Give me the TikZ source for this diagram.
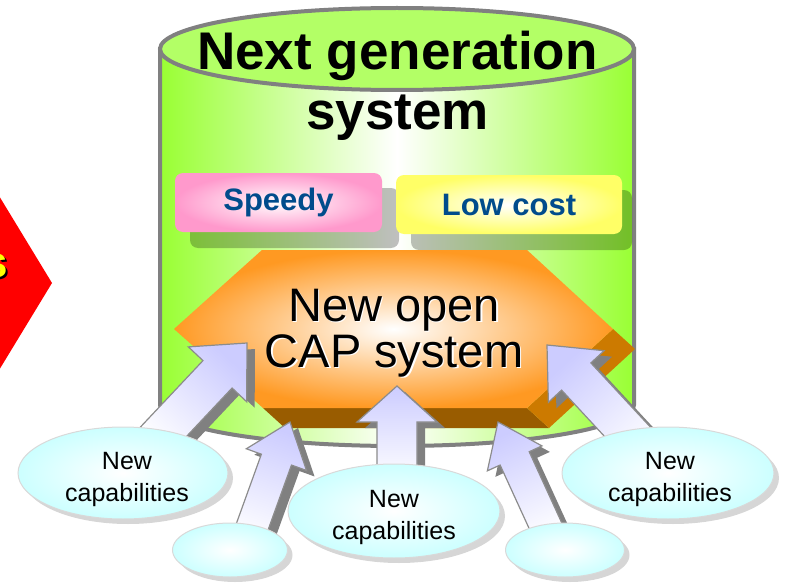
\documentclass[tikz,border=0pt]{standalone}
\usepackage{fontspec}
\setmainfont{Liberation Sans}
\usetikzlibrary{calc,shadings,shapes.geometric,shadows}
\definecolor{cylgreen}{HTML}{99FF33}
\definecolor{topgreen}{HTML}{B3FF66}
\definecolor{cylline}{HTML}{808080}
\definecolor{spdpink}{HTML}{FF99CC}
\definecolor{lcyellow}{HTML}{FFFF66}
\definecolor{txtblue}{HTML}{004C8C}
\definecolor{hexorange}{HTML}{FF9922}
\definecolor{hexbottom}{HTML}{995C00}
\definecolor{hexside}{HTML}{CC7A00}
\definecolor{arrlav}{HTML}{CCCCFF}
\definecolor{arrline}{HTML}{8C8C8C}
\definecolor{arrshade}{HTML}{808080}
\definecolor{ellcyan}{HTML}{CCFFFF}
\definecolor{ellline}{HTML}{D9D9D9}
\definecolor{ellshadow}{HTML}{D6D6D6}
\definecolor{diamred}{HTML}{FF0000}
\definecolor{diamyellow}{HTML}{FFFF00}
\tikzset{
  cylstyle/.style={draw=cylline, line width=4pt},
  featbox/.style={rounded corners=8pt, minimum height=59pt, inner sep=0pt, text=txtblue,
    font=\bfseries\fontsize{31}{36}\selectfont},
  boxshadow/.style={fill=black, opacity=0.25, rounded corners=8pt},
  capell/.style={ellipse, draw=ellline, line width=1pt, inner color=white, outer color=ellcyan,
    inner sep=0pt,
    drop shadow={shadow xshift=5pt, shadow yshift=-5pt, opacity=1, fill=ellshadow}},
  captxt/.style={align=center, inner sep=0pt, font=\fontsize{25}{32}\selectfont},
  arrbody/.style={draw=arrline, line width=1.2pt, top color=arrlav, bottom color=white},
  arrshadow/.style={fill=arrshade},
  hextxt/.style={align=center, inner sep=0pt, font=\fontsize{47}{46}\selectfont},
  titletxt/.style={align=center, inner sep=0pt, font=\bfseries\fontsize{53}{60}\selectfont},
}
\newcommand\blockarrow[6]{%
  \coordinate (#2-hb) at ($(#2)!#5!(#1)$);
  \coordinate (#1-s) at ($(#1)+(8,6)$);
  \coordinate (#2-s) at ($(#2)+(8,6)$);
  \coordinate (#2-hbs) at ($(#2-hb)+(8,6)$);
  \fill[arrshadow] ($(#1-s)!#3!90:(#2-s)$) -- ($(#2-hbs)!#3!90:(#2-s)$) -- ($(#2-hbs)!#4!90:(#2-s)$)
    -- (#2-s) -- ($(#2-hbs)!#4!-90:(#2-s)$) -- ($(#2-hbs)!#3!-90:(#2-s)$) -- ($(#1-s)!#3!-90:(#2-s)$) -- cycle;
  \path[arrbody, shading angle=#6] ($(#1)!#3!90:(#2)$) -- ($(#2-hb)!#3!90:(#2)$) -- ($(#2-hb)!#4!90:(#2)$)
    -- (#2) -- ($(#2-hb)!#4!-90:(#2)$) -- ($(#2-hb)!#3!-90:(#2)$) -- ($(#1)!#3!-90:(#2)$) -- cycle;
}
\begin{document}
\begin{tikzpicture}[x=1pt, y=-1pt]
\useasboundingbox (0,0) rectangle (785,586);

% red diamond at the left
\fill[diamred] (-10,181) -- (52,283) -- (-10,385) -- cycle;
\node[anchor=base east, inner sep=0pt, font=\bfseries\fontsize{44}{50}\selectfont] (stext) at (8.5,277.5)
  {\makebox[0pt][l]{\kern2pt\raisebox{-2pt}{\color{black}s}}\textcolor{diamyellow}{s}};

% cylinder
\path[cylstyle, left color=cylgreen, right color=cylgreen, middle color=white]
  (160,49) -- (160,405) arc[start angle=180, end angle=360, x radius=237pt, y radius=41pt] -- (634,49) -- cycle;
\draw[cylstyle, fill=topgreen] (397,49) ellipse [x radius=237pt, y radius=41pt];
\node[titletxt] (title) at (397.5,86) {Next generation\\system};

% feature boxes
\fill[boxshadow] (190,188) rectangle (399,248);
\fill[boxshadow] (411,190) rectangle (632,250);
\node[featbox, minimum width=207pt, inner color=white, outer color=spdpink] (speedy) at (278.5,202.5) {Speedy};
\node[featbox, minimum width=226pt, inner color=white, outer color=lcyellow] (lowcost) at (509,204.5) {Low cost};

% hexagon with depth
\fill[hexbottom] (263,408) -- (527,408) -- (549,428) -- (285,428) -- cycle;
\fill[hexside] (527,408) -- (613,329) -- (635,349) -- (549,428) -- cycle;
\path[inner color=white, outer color=hexorange]
  (262,250) -- (527,250) -- (613,329) -- (527,408) -- (263,408) -- (174,329) -- cycle;
\node[hextxt] (cap) at (394,333.5)
  {\makebox[0pt][l]{\kern1.5pt\raisebox{-1.5pt}{\color{white}New open}}New open\\
   \makebox[0pt][l]{\kern1.5pt\raisebox{-1.5pt}{\color{white}CAP system}}CAP system};

% arrow end points
\coordinate (t1) at (151,445);  \coordinate (p1) at (247,343);
\coordinate (t2) at (246,544);  \coordinate (p2) at (290,422);
\coordinate (t3) at (397,482);  \coordinate (p3) at (397,386);
\coordinate (t4) at (552,540);  \coordinate (p4) at (498,422);
\coordinate (t5) at (649,455);  \coordinate (p5) at (547,345);

\blockarrow{t1}{p1}{20pt}{40pt}{43pt}{-43}
\blockarrow{t2}{p2}{16pt}{32pt}{40pt}{-20}
\blockarrow{t3}{p3}{20pt}{40pt}{36pt}{0}
\blockarrow{t4}{p4}{16pt}{30pt}{40pt}{25}
\blockarrow{t5}{p5}{20pt}{38pt}{43pt}{43}

% capability ellipses
\node[capell, minimum width=210pt, minimum height=92pt] (capL) at (123,473) {};
\node[capell, minimum width=115pt, minimum height=54pt] (capSL) at (230,550) {};
\node[capell, minimum width=212pt, minimum height=94pt] (capC) at (394,511) {};
\node[capell, minimum width=119pt, minimum height=54pt] (capSR) at (565,550) {};
\node[capell, minimum width=212pt, minimum height=92pt] (capR) at (668,473) {};
\node[captxt] (capLt) at (127,479) {New\\capabilities};
\node[captxt] (capCt) at (394,517) {New\\capabilities};
\node[captxt] (capRt) at (670,479) {New\\capabilities};
\end{tikzpicture}
\end{document}
